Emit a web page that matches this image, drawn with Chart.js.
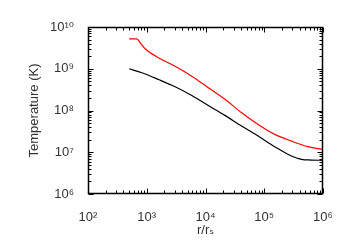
<!DOCTYPE html>
<html>
<head>
<meta charset="utf-8">
<script src="https://cdn.jsdelivr.net/npm/chart.js@4/dist/chart.umd.min.js"></script>
<style>
  html, body { margin: 0; padding: 0; background: #fff; }
  #wrap { width: 350px; height: 250px; position: relative; }
</style>
</head>
<body>
<div id="wrap"><canvas id="c"></canvas></div>
<script>
// ---- data ----
const rRed = [502, 679, 773, 940, 1580, 3040, 5840, 11170, 21400, 41200, 78800, 151000, 291000, 556000, 1000000];
const tRed = [5.22e9, 5.22e9, 4.19e9, 3.01e9, 1.83e9, 1.15e9, 6.65e8, 3.51e8, 1.85e8, 8.86e7, 4.65e7, 2.68e7, 1.85e7, 1.36e7, 1.17e7];
const rBlack = [502, 826, 1580, 3040, 5840, 11170, 21400, 41200, 78800, 151000, 291000, 430000, 635000, 1000000];
const tBlack = [1.0e9, 8.0e8, 5.54e8, 3.71e8, 2.30e8, 1.32e8, 7.64e7, 4.24e7, 2.44e7, 1.36e7, 8.11e6, 6.76e6, 6.51e6, 6.4e6];
const xTicks = [1e2, 1e3, 1e4, 1e5, 1e6];
const yTicks = [1e6, 1e7, 1e8, 1e9, 1e10];
const xTickLabels = ['10²', '10³', '10⁴', '10⁵', '10⁶'];
const yTickLabels = ['10⁶', '10⁷', '10⁸', '10⁹', '10¹⁰'];
const xTitle = 'r/rₛ';
const yTitle = 'Temperature (K)';

const FONT = "'Liberation Sans', 'DejaVu Sans', Arial, sans-serif";
const TXT = '#333';

const boxTicks = {
  id: 'boxTicks',
  afterDraw(chart) {
    const { ctx, chartArea: a, scales } = chart;
    ctx.save();
    ctx.strokeStyle = '#000000';
    ctx.lineWidth = 1.5;
    const L = Math.round(a.left) + 0.5, R = Math.round(a.right) - 0.5;
    const T = Math.round(a.top) + 0.5, B = Math.round(a.bottom) - 0.5;
    const seg = (x1, y1, x2, y2) => { ctx.beginPath(); ctx.moveTo(x1, y1); ctx.lineTo(x2, y2); ctx.stroke(); };
    ctx.beginPath();
    ctx.rect(L, T, R - L, B - T);
    ctx.stroke();
    ctx.lineWidth = 1;
    const drawAxis = (scale, horiz) => {
      const lo = Math.log10(scale.min), hi = Math.log10(scale.max);
      for (let d = Math.floor(lo); d <= Math.ceil(hi); d++) {
        for (let m = 1; m <= 9; m++) {
          const v = m * Math.pow(10, d);
          if (v < scale.min * 0.999 || v > scale.max * 1.001) continue;
          const len = m === 1 ? 5 : 3;
          const p = Math.round(scale.getPixelForValue(v)) + 0.5;
          if (horiz) {
            seg(p, B, p, B - len);
            seg(p, T, p, T + len);
          } else {
            seg(L, p, L + len, p);
            seg(R, p, R - len, p);
          }
        }
      }
    };
    drawAxis(scales.x, true);
    drawAxis(scales.y, false);
    ctx.restore();
  }
};

new Chart(document.getElementById('c'), {
  type: 'line',
  data: {
    datasets: [
      {
        data: rRed.map((r, i) => ({ x: r, y: tRed[i] })),
        borderColor: '#ff0000', borderWidth: 1.2, pointRadius: 0,
        cubicInterpolationMode: 'monotone', clip: false
      },
      {
        data: rBlack.map((r, i) => ({ x: r, y: tBlack[i] })),
        borderColor: '#000000', borderWidth: 1.2, pointRadius: 0,
        cubicInterpolationMode: 'monotone', clip: false
      }
    ]
  },
  options: {
    responsive: true,
    maintainAspectRatio: false,
    animation: false,
    events: [],
    layout: { padding: { top: 27, right: 27, left: 0, bottom: 0 } },
    plugins: { legend: { display: false }, tooltip: { enabled: false } },
    scales: {
      x: {
        type: 'logarithmic', min: 1e2, max: 1e6,
        grid: { display: false }, border: { display: false },
        afterBuildTicks: s => { s.ticks = xTicks.map(v => ({ value: v })); },
        afterFit: s => { s.height = 56; },
        ticks: {
          autoSkip: false, maxRotation: 0, padding: 8, color: TXT,
          font: { family: FONT, size: 13 },
          callback: v => { const i = xTicks.indexOf(v); return i >= 0 ? xTickLabels[i] : ''; }
        },
        title: { display: true, text: xTitle, color: TXT, font: { family: FONT, size: 13 }, padding: { top: 0, bottom: 12 } }
      },
      y: {
        type: 'logarithmic', min: 1e6, max: 1e10,
        grid: { display: false }, border: { display: false },
        afterBuildTicks: s => { s.ticks = yTicks.map(v => ({ value: v })); },
        afterFit: s => { s.width = 88; },
        ticks: {
          autoSkip: false, padding: 6, color: TXT,
          font: { family: FONT, size: 13 },
          callback: v => { const i = yTicks.indexOf(v); return i >= 0 ? yTickLabels[i] : ''; }
        },
        title: { display: true, text: yTitle, color: TXT, font: { family: FONT, size: 13 }, padding: { top: 27, bottom: 0 } }
      }
    }
  },
  plugins: [boxTicks]
});
</script>
</body>
</html>
